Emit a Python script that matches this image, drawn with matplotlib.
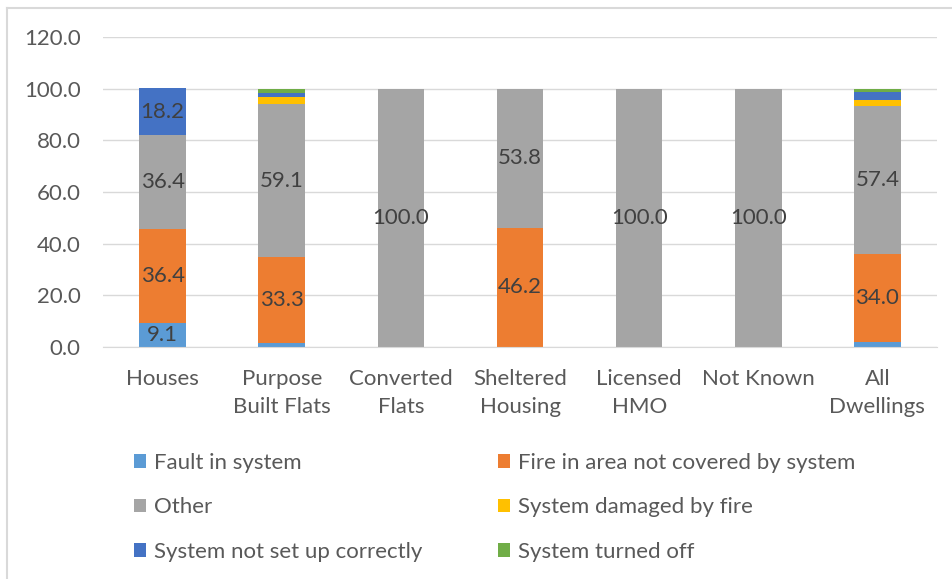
import matplotlib.pyplot as plt
import numpy as np
from matplotlib.patches import Patch
from matplotlib.lines import Line2D

plt.rcParams['font.family'] = ['Lato', 'DejaVu Sans']

categories = ['Houses', 'Purpose\nBuilt Flats', 'Converted\nFlats', 'Sheltered\nHousing',
              'Licensed\nHMO', 'Not Known', 'All\nDwellings']
series_names = ['Fault in system', 'Fire in area not covered by system', 'Other',
                'System damaged by fire', 'System not set up correctly', 'System turned off']
fault = [9.1, 1.5, 0.0, 0.0, 0.0, 0.0, 2.0]
fire_area = [36.4, 33.3, 0.0, 46.2, 0.0, 0.0, 34.0]
other = [36.4, 59.1, 100.0, 53.8, 100.0, 100.0, 57.4]
damaged = [0.0, 3.0, 0.0, 0.0, 0.0, 0.0, 2.2]
not_set_up = [18.2, 1.5, 0.0, 0.0, 0.0, 0.0, 3.3]
turned_off = [0.0, 1.6, 0.0, 0.0, 0.0, 0.0, 1.1]
colors = ['#5B9BD5', '#ED7D31', '#A5A5A5', '#FFC000', '#4472C4', '#70AD47']

series = [fault, fire_area, other, damaged, not_set_up, turned_off]
fs = 16

fig = plt.figure(figsize=(9.52, 5.79), dpi=100)
ax = fig.add_axes([103 / 952, 1 - 347 / 579, 834 / 952, 310 / 579])

x = np.arange(len(categories))
bottom = np.zeros(len(categories))
for vals, col in zip(series, colors):
    vals = np.array(vals)
    ax.bar(x, vals, 0.39, bottom=bottom, color=col, zorder=2)
    for xi, b, v in zip(x, bottom, vals):
        if v >= 5:
            ax.text(xi, b + v / 2, f'{v:.1f}', ha='center', va='center',
                    fontsize=fs, color='#404040', zorder=3)
    bottom += vals

ax.set_xlim(-0.5, len(categories) - 0.5)
ax.set_ylim(0, 120)
ax.set_yticks(np.arange(0, 121, 20))
ax.set_yticklabels([f'{v:.1f}' for v in np.arange(0, 121, 20)])
ax.yaxis.grid(True, color='#D9D9D9', linewidth=1, zorder=0)
ax.set_xticks(x)
ax.set_xticklabels(categories, linespacing=1.5)
ax.tick_params(axis='both', length=0, labelsize=fs, labelcolor='#595959')
ax.tick_params(axis='y', pad=16)
ax.tick_params(axis='x', pad=16)
for s in ['top', 'right', 'left']:
    ax.spines[s].set_visible(False)
ax.spines['bottom'].set_color('#D9D9D9')

# legend, row-wise order
order = [0, 2, 4, 1, 3, 5]
handles = [Patch(facecolor=colors[i]) for i in order]
labels = [series_names[i] for i in order]
fig.legend(handles, labels, ncol=2, loc='upper left', bbox_to_anchor=(114 / 952, 1 - 433 / 579),
           frameon=False, fontsize=fs, labelcolor='#595959', handlelength=0.55,
           handleheight=0.55, handletextpad=0.36, labelspacing=1.1, columnspacing=3.4)

# chart border
fig.add_artist(Line2D([7 / 952, 7 / 952], [0, 1 - 8 / 579], transform=fig.transFigure,
                      color='#D9D9D9', linewidth=1.5))
fig.add_artist(Line2D([7 / 952, 1], [1 - 8 / 579, 1 - 8 / 579], transform=fig.transFigure,
                      color='#D9D9D9', linewidth=1.5))

fig.savefig('out.png', dpi=100)
